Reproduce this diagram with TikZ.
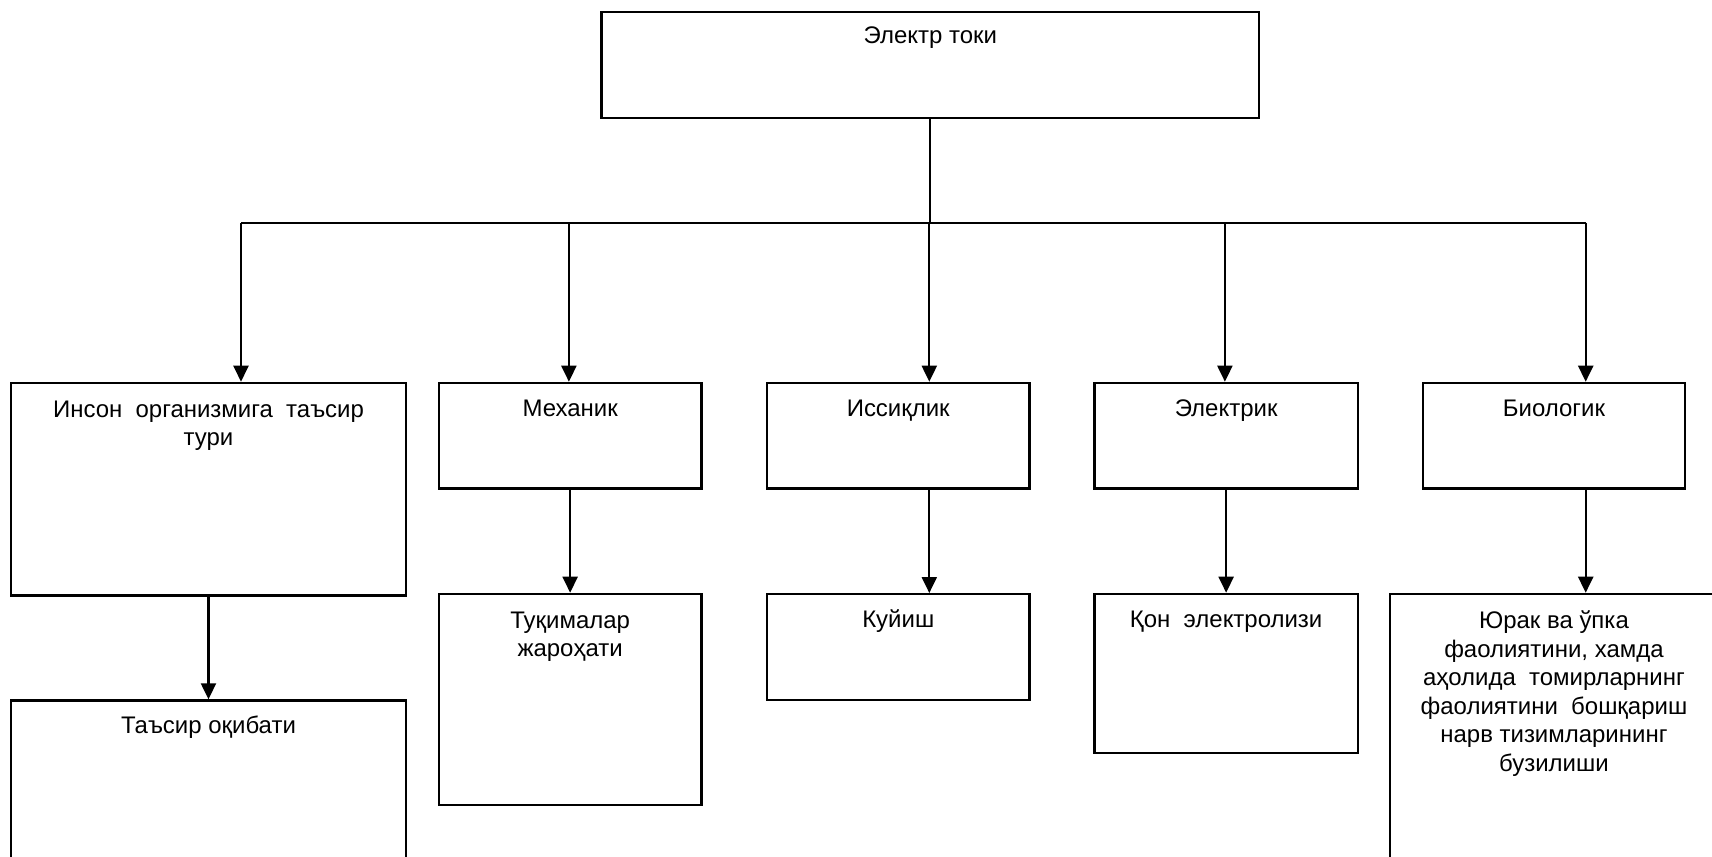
\documentclass[tikz,border=0pt]{standalone}
\usepackage{fontspec}
\setmainfont{Liberation Sans}
\usetikzlibrary{arrows.meta}

\tikzset{
  box/.style={draw, line width=0.7pt, anchor=north west, inner sep=0pt},
  txt/.style={anchor=north, align=center, inner sep=0pt, font=\fontsize{6.82}{8.11}\selectfont,
    execute at begin node=\strut},
  link/.style={line width=0.6pt},
  arr/.style={link, -{Triangle[width=0.15cm,length=0.16cm]}},
}

\begin{document}
\begin{tikzpicture}[scale=1]
    \useasboundingbox (0,0) rectangle (17.12,-8.56);

    % Top: source box
    \node[box, minimum width=6.575cm, minimum height=1.055cm] (top) at (6.004,-0.11) {};
    \node[txt] (top-t) at ([yshift=-0.12cm]top.north) {Электр токи};

    % Bus with drop points
    \coordinate (b1) at (2.41,-2.227);
    \coordinate (b2) at (5.689,-2.227);
    \coordinate (b3) at (9.293,-2.227);
    \coordinate (b4) at (12.249,-2.227);
    \coordinate (b5) at (15.857,-2.227);
    \draw[link] (top.south) -- (top.south |- b1);
    \draw[link] (b1) -- (b5);

    % First row
    \node[box, minimum width=3.945cm, minimum height=2.126cm] (inson) at (0.10,-3.817) {};
    \node[txt] (inson-t) at ([yshift=-0.185cm]inson.north) {Инсон\ \ организмига\ \ таъсир\\тури};
    \node[box, minimum width=2.626cm, minimum height=1.056cm] (mech) at (4.376,-3.817) {};
    \node[txt] (mech-t) at ([yshift=-0.14cm]mech.north) {Механик};
    \node[box, minimum width=2.626cm, minimum height=1.056cm] (issiq) at (7.657,-3.817) {};
    \node[txt] (issiq-t) at ([yshift=-0.14cm]issiq.north) {Иссиқлик};
    \node[box, minimum width=2.632cm, minimum height=1.056cm] (elek) at (10.933,-3.817) {};
    \node[txt] (elek-t) at ([yshift=-0.14cm]elek.north) {Электрик};
    \node[box, minimum width=2.620cm, minimum height=1.056cm] (bio) at (14.218,-3.817) {};
    \node[txt] (bio-t) at ([yshift=-0.14cm]bio.north) {Биологик};

    \draw[arr] (b1) -- (b1 |- inson.north);
    \draw[arr] (b2) -- (b2 |- mech.north);
    \draw[arr] (b3) -- (b3 |- issiq.north);
    \draw[arr] (b4) -- (b4 |- elek.north);
    \draw[arr] (b5) -- (b5 |- bio.north);

    % Second row
    \node[box, minimum width=3.945cm, minimum height=2.0cm] (tasir) at (0.10,-6.993) {};
    \node[txt] (tasir-t) at ([yshift=-0.14cm]tasir.north) {Таъсир оқибати};
    \node[box, minimum width=2.626cm, minimum height=2.113cm] (tuq) at (4.376,-5.927) {};
    \node[txt] (tuq-t) at ([yshift=-0.185cm]tuq.north) {Туқималар\\жароҳати};
    \node[box, minimum width=2.626cm, minimum height=1.06cm] (kuy) at (7.657,-5.93) {};
    \node[txt] (kuy-t) at ([yshift=-0.14cm]kuy.north) {Куйиш};
    \node[box, minimum width=2.632cm, minimum height=1.59cm] (qon) at (10.933,-5.927) {};
    \node[txt] (qon-t) at ([yshift=-0.14cm]qon.north) {Қон\ \ электролизи};
    \node[box, minimum width=3.28cm, minimum height=3.0cm] (yur) at (13.887,-5.927) {};
    \node[txt] (yur-t) at ([yshift=-0.175cm]yur.north) {Юрак ва ўпка\\фаолиятини, хамда\\аҳолида\ \ томирларнинг\\фаолиятини\ \ бошқариш\\нарв тизимларининг\\бузилиши};

    \draw[arr] (inson.south) -- (tasir.north);
    \draw[arr] (mech.south) -- (tuq.north);
    \draw[arr] (issiq.south -| b3) -- (kuy.north -| b3);
    \draw[arr] (elek.south) -- (qon.north);
    \draw[arr] (bio.south -| b5) -- (yur.north -| b5);
\end{tikzpicture}
\end{document}
